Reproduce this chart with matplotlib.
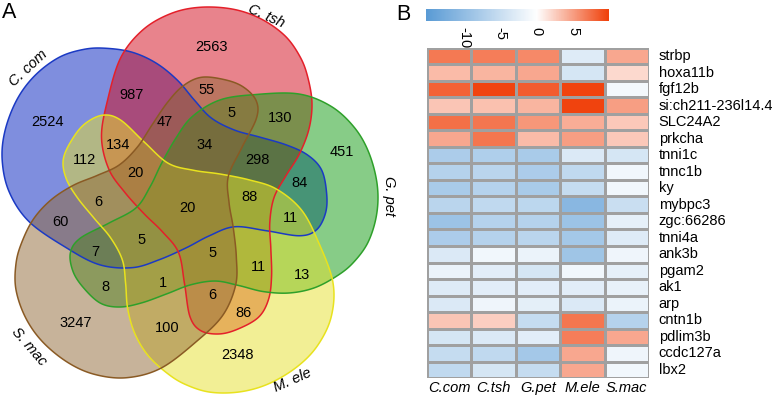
import numpy as np
import matplotlib
matplotlib.use("Agg")
import matplotlib.pyplot as plt
from matplotlib.patches import Polygon
from matplotlib.colors import LinearSegmentedColormap, TwoSlopeNorm

plt.rcParams['font.family'] = ['Liberation Sans', 'DejaVu Sans']

# ---------------- data ----------------
set_names = ["C. com", "C. tsh", "G. pet", "M. ele", "S. mac"]
# region memberships (indices into set_names) and counts
region_sets = [
    (0,), (1,), (2,), (3,), (4,),
    (0, 1), (1, 2), (2, 3), (3, 4), (4, 0),
    (0, 2), (1, 3), (2, 4), (3, 0), (4, 1),
    (0, 1, 4), (0, 1, 2), (0, 2, 3), (1, 3, 4), (0, 2, 4),
    (1, 2, 4), (0, 2, 3), (1, 3, 4), (0, 2, 4), (0, 1, 3),
    (0, 1, 2, 4), (0, 1, 2, 3), (1, 2, 3, 4), (0, 2, 3, 4), (0, 1, 3, 4),
    (0, 1, 2, 3, 4),
]
region_counts = [
    2524, 2563, 451, 2348, 3247,
    987, 130, 13, 100, 60,
    84, 86, 8, 112, 55,
    47, 298, 11, 1, 6,
    5, 11, 6, 7, 134,
    34, 88, 5, 5, 20,
    20,
]

genes = ["strbp", "hoxa11b", "fgf12b", "si:ch211-236l14.4", "SLC24A2", "prkcha",
         "tnni1c", "tnnc1b", "ky", "mybpc3", "zgc:66286", "tnni4a", "ank3b",
         "pgam2", "ak1", "arp", "cntn1b", "pdlim3b", "ccdc127a", "lbx2"]
species = ["C.com", "C.tsh", "G.pet", "M.ele", "S.mac"]
expr = [
    [6.9, 6.7, 6.1, -3.0, 4.5],
    [3.5, 3.8, 4.5, -3.8, 2.0],
    [8.1, 9.6, 8.4, 9.7, -1.1],
    [3.0, 3.2, 3.8, 9.7, 5.0],
    [7.4, 7.1, 5.4, 4.2, 2.8],
    [4.5, 7.1, 3.5, 5.0, 2.8],
    [-7.6, -7.3, -7.9, -3.3, -3.8],
    [-6.8, -6.4, -7.6, -5.8, -1.2],
    [-7.9, -6.8, -7.9, -5.3, -1.2],
    [-6.4, -5.8, -6.1, -10.9, -4.9],
    [-9.1, -6.8, -6.8, -9.1, -2.3],
    [-7.6, -6.8, -6.4, -8.4, -3.0],
    [-3.3, -1.2, -1.8, -8.8, -1.5],
    [-1.8, -2.7, -3.8, -1.2, -2.3],
    [-3.0, -2.7, -2.7, -2.7, -2.1],
    [-3.3, -1.5, -2.4, -3.3, -1.8],
    [3.0, 2.5, -5.3, 7.1, -6.8],
    [-3.8, -3.3, -2.7, 6.7, 4.5],
    [-5.3, -5.8, -8.4, 4.5, -1.5],
    [-5.8, -3.8, -5.3, 4.5, -1.2],
]
cbar_ticks = [-10, -5, 0, 5]

# ---------------- layout (pixel space of the panel) ----------------
W, H = 772, 397
CX, CY = 185.0, 205.0
base_shape = np.array([
    (30, 222), (67, 248), (100, 265), (133, 268), (160, 260), (187, 248),
    (210, 236), (235, 227), (267, 231), (300, 236), (317, 230), (326, 213),
    (327, 193), (322, 170), (308, 155), (287, 145), (260, 137), (235, 130),
    (212, 118), (195, 100), (178, 80), (157, 63), (133, 52), (107, 48),
    (85, 49), (60, 57), (36, 75), (18, 99), (6, 130), (3, 160), (10, 192)],
    dtype=float)
# bounding boxes (xmin, xmax, ymin, ymax) of each set outline
shape_boxes = [(2, 327, 48, 268), (101.5, 312, 7, 334), (70, 378, 93, 307),
               (63, 334, 115, 393), (15, 258, 77, 378)]
fill_cols = ["#001ebe", "#d2091a", "#109b10", "#e6e12d", "#916937"]
edge_cols = ["#1b3ac4", "#e4202a", "#2ea02a", "#e8e21e", "#8a5a24"]
count_pos = [
    (47, 122), (212, 47), (342, 152), (237, 355), (76, 323),
    (132, 95), (280, 118), (302, 275), (167, 328), (60, 222),
    (300, 183), (243, 313), (105, 287), (85, 160), (207, 90),
    (165, 122), (257, 160), (258, 267), (163, 283), (98, 202),
    (232, 113), (290, 218), (212, 295), (95, 252), (118, 145),
    (205, 145), (250, 197), (213, 253), (142, 240), (135, 173),
    (187, 208),
]
name_pos = [(28, 68), (266, 16), (389, 196), (293, 380), (29, 347)]
name_rot = [43, -24, -90, 24, -49]


def catmull_closed(P, n=20):
    P = np.asarray(P)
    m = len(P)
    out = []
    t = np.linspace(0, 1, n, endpoint=False)[:, None]
    for i in range(m):
        p0, p1, p2, p3 = P[(i - 1) % m], P[i], P[(i + 1) % m], P[(i + 2) % m]
        seg = 0.5 * (2 * p1 + (-p0 + p2) * t + (2 * p0 - 5 * p1 + 4 * p2 - p3) * t ** 2
                     + (-p0 + 3 * p1 - 3 * p2 + p3) * t ** 3)
        out.append(seg)
    return np.vstack(out)


def rotated(P, k):
    th = np.deg2rad(-72 * k)
    u = P[:, 0] - CX
    v = CY - P[:, 1]
    u2 = u * np.cos(th) - v * np.sin(th)
    v2 = u * np.sin(th) + v * np.cos(th)
    return np.column_stack([CX + u2, CY - v2])


def fit_box(P, box):
    x0, x1, y0, y1 = box
    px, py = P[:, 0], P[:, 1]
    nx = x0 + (px - px.min()) / (px.max() - px.min()) * (x1 - x0)
    ny = y0 + (py - py.min()) / (py.max() - py.min()) * (y1 - y0)
    return np.column_stack([nx, ny])


fig = plt.figure(figsize=(W / 100, H / 100), dpi=100)
ax = fig.add_axes([0, 0, 1, 1])
ax.set_xlim(0, W)
ax.set_ylim(H, 0)
ax.axis("off")

smooth = catmull_closed(base_shape)
outlines = [fit_box(rotated(smooth, k), shape_boxes[k]) for k in range(5)]
for k in range(5):
    ax.add_patch(Polygon(outlines[k], closed=True, facecolor=fill_cols[k], alpha=0.5,
                         edgecolor="none", zorder=1 + k))
for k in range(5):
    ax.add_patch(Polygon(outlines[k], closed=True, facecolor="none",
                         edgecolor=edge_cols[k], lw=1.1, zorder=10))

for (x, y), c in zip(count_pos, region_counts):
    ax.text(x, y, str(c), ha="center", va="center", fontsize=10.5, zorder=20)
for (x, y), nm, r in zip(name_pos, set_names, name_rot):
    ax.text(x, y, nm, ha="center", va="center", fontsize=10.5, style="italic",
            rotation=r, zorder=20)

ax.text(2, 12, "A", fontsize=15.5, ha="left", va="center")
ax.text(396, 14, "B", fontsize=15.5, ha="left", va="center")

# ---------------- heatmap ----------------
cmap = LinearSegmentedColormap.from_list("bwr2", ["#5a9bd5", "#ffffff", "#f0400a"])
vmin, vmax = -15.2, 9.9
norm = TwoSlopeNorm(vmin=vmin, vcenter=0, vmax=vmax)

hx0, hx1, hy0, hy1 = 427, 649, 48, 378
hax = fig.add_axes([hx0 / W, 1 - hy1 / H, (hx1 - hx0) / W, (hy1 - hy0) / H])
data = np.array(expr)
hax.pcolormesh(data, cmap=cmap, norm=norm, edgecolors="#a0a0a0", linewidth=0.8)
hax.set_xlim(0, len(species))
hax.set_ylim(len(genes), 0)
hax.set_xticks([])
hax.set_yticks([])
for s in hax.spines.values():
    s.set_visible(False)
for i, g in enumerate(genes):
    hax.text(len(species) + 0.22, i + 0.5, g, ha="left", va="center", fontsize=10.5)
for j, sp in enumerate(species):
    hax.text(j + 0.5, len(genes) + 0.6, sp, ha="center", va="center", fontsize=10.5,
             style="italic")

# colorbar
cax = fig.add_axes([426 / W, 1 - 21 / H, (609 - 426) / W, 12 / H])
grad = np.linspace(vmin, vmax, 256)[None, :]
cax.imshow(grad, cmap=cmap, norm=norm, aspect="auto",
           extent=[vmin, vmax, 0, 1])
cax.set_xlim(vmin, vmax)
cax.set_yticks([])
cax.set_xticks(cbar_ticks)
cax.set_xticklabels([str(t) for t in cbar_ticks], rotation=-90, fontsize=10.5)
cax.tick_params(axis="x", length=0, pad=4)
for s in cax.spines.values():
    s.set_visible(False)

fig.savefig("out.png", dpi=100)
